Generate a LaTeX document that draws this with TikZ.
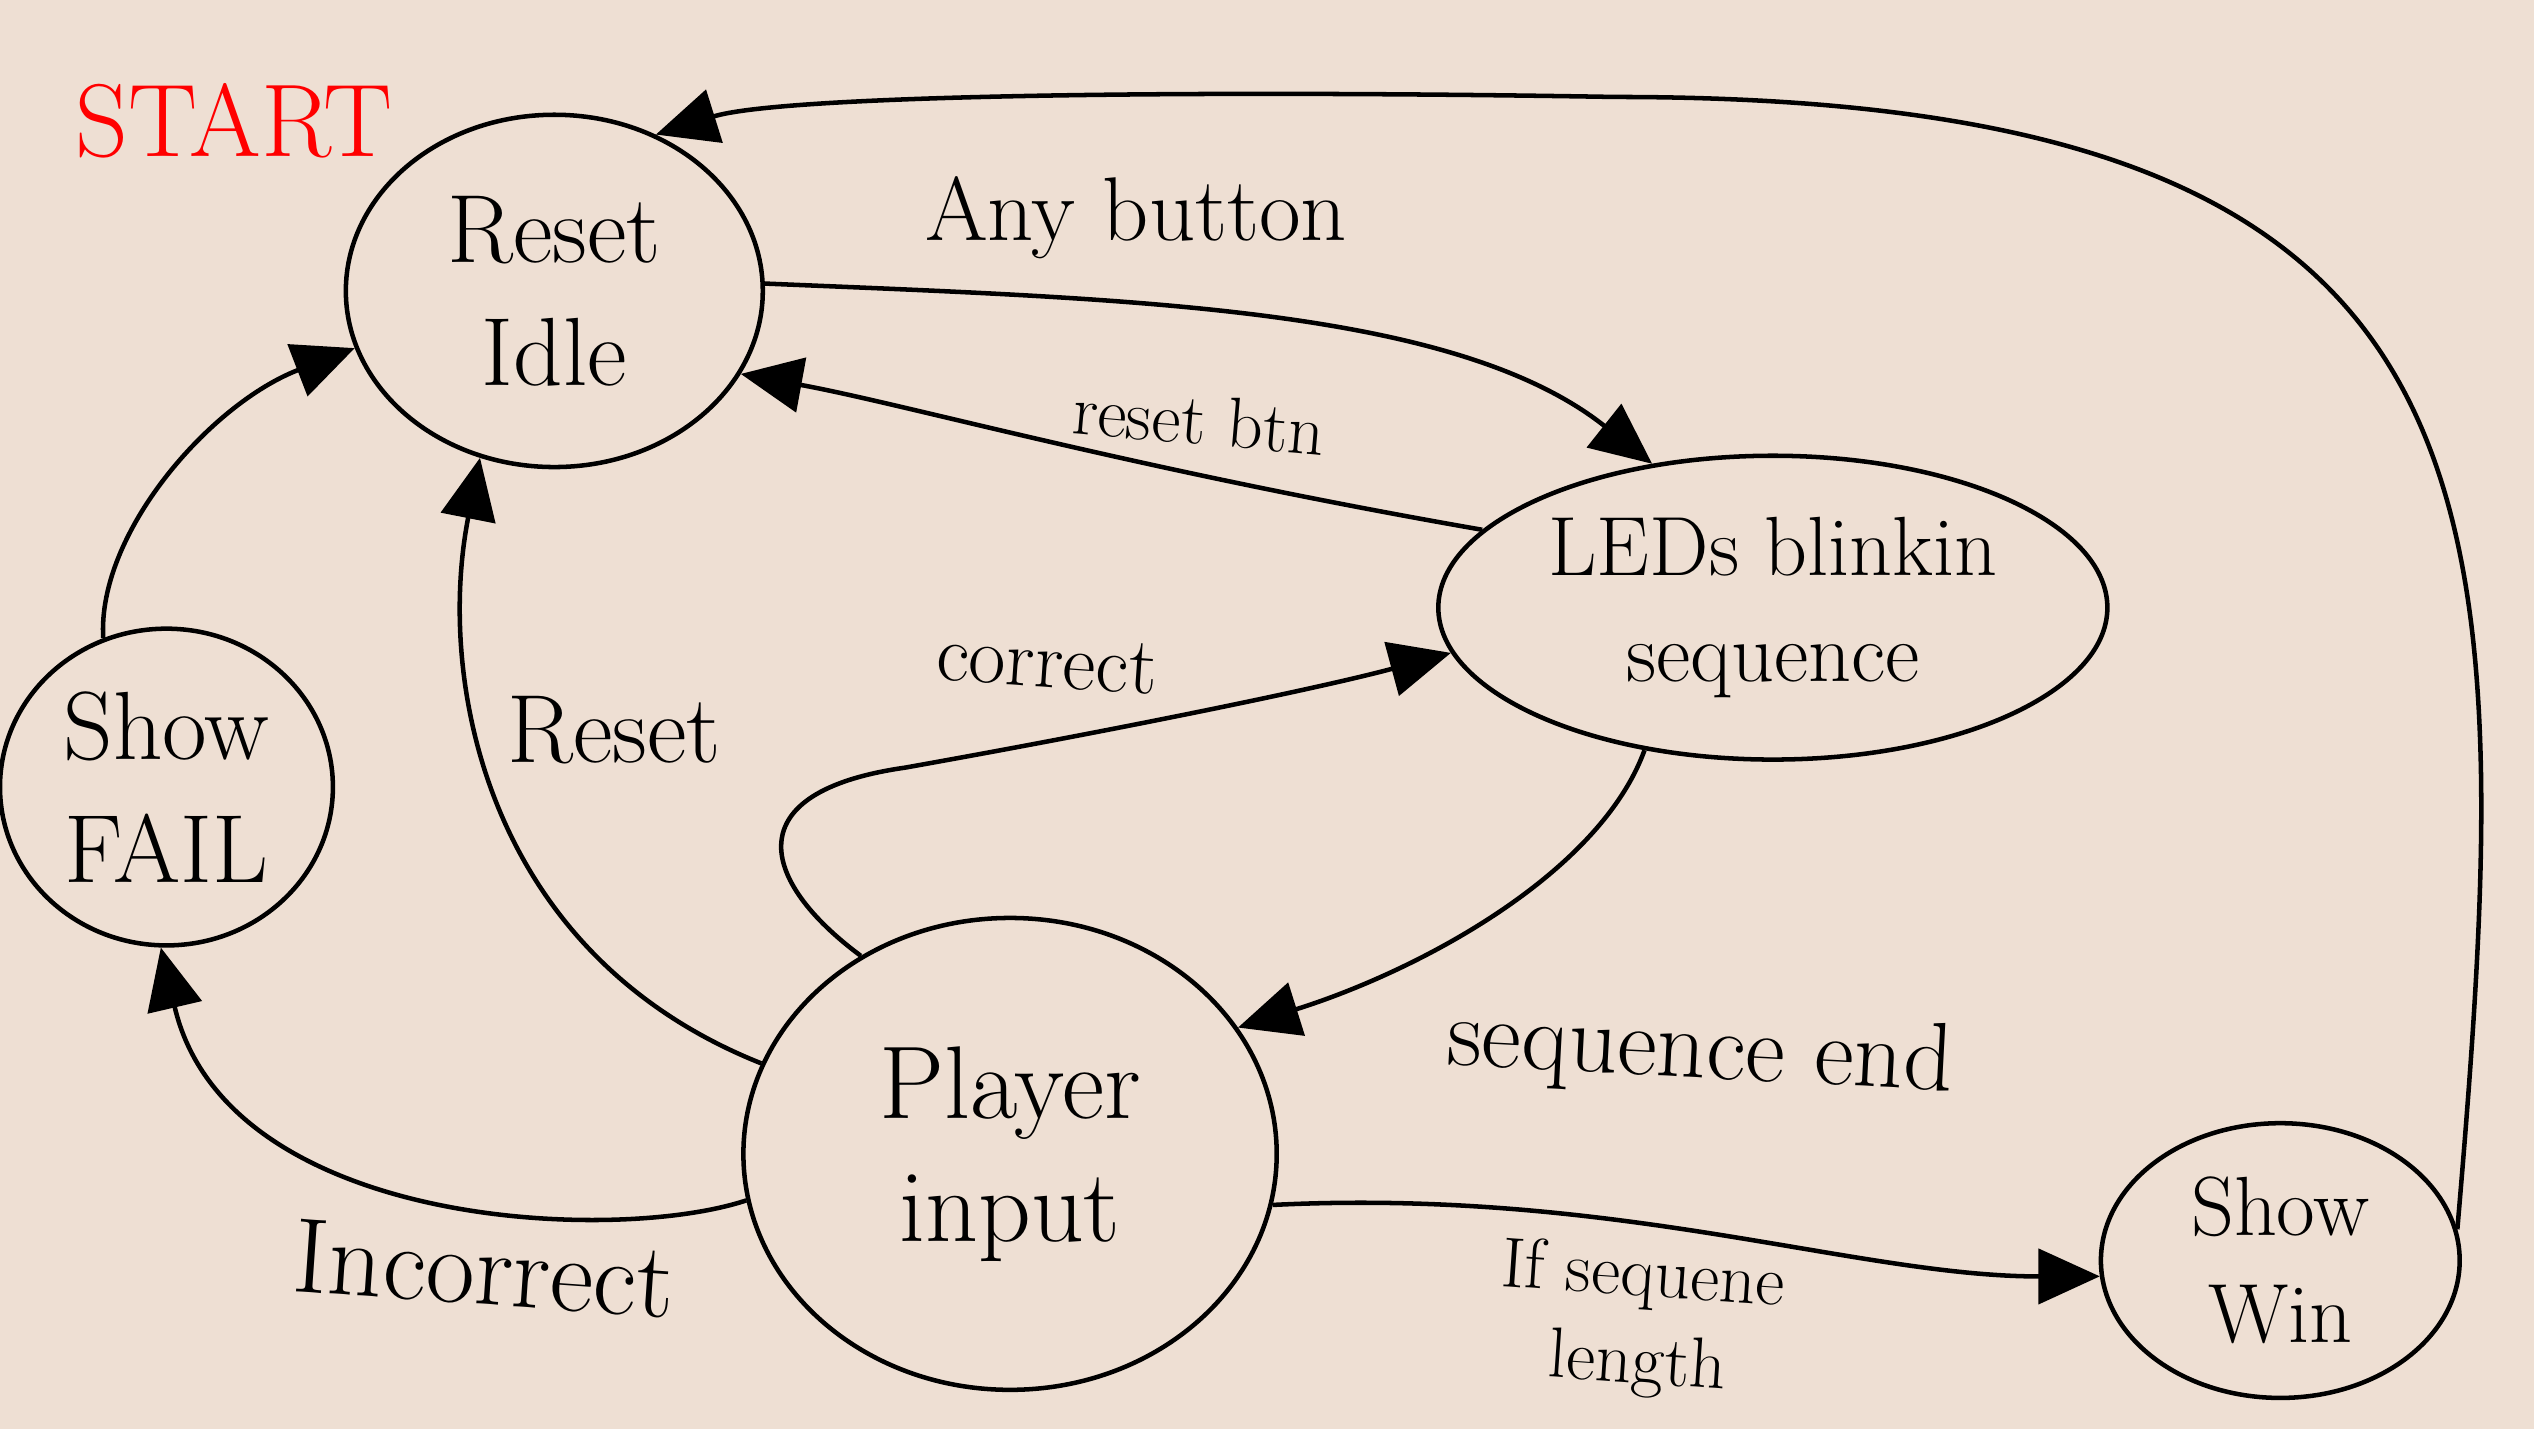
\documentclass[tikz,border=0pt]{standalone}
\usetikzlibrary{arrows.meta,shapes.geometric}
\definecolor{bg}{RGB}{238,223,211}
\definecolor{startred}{RGB}{255,0,0}
\begin{document}
\begin{tikzpicture}[x=1pt,y=-1pt,
  state/.style={draw, ellipse, line width=2.8pt, inner sep=0pt, align=center},
  conn/.style={line width=2.8pt, -{Triangle[length=38pt,width=34pt]}},
  big/.style={font=\fontsize{60}{76}\selectfont},
  mid/.style={font=\fontsize{52}{66}\selectfont},
  sml/.style={font=\fontsize{44}{54}\selectfont}]
\fill[bg] (0,0) rectangle (1568,884);
\useasboundingbox (0,0) rectangle (1568,884);

% states
\node[state, big, minimum width=258pt, minimum height=218pt] (rst) at (343,180) {Reset\\Idle};
\node[state, mid, minimum width=414pt, minimum height=188pt] (led) at (1097,376) {LEDs blinkin\\sequence};
\node[state, big, minimum width=206pt, minimum height=196pt] (fail) at (103,487) {Show\\FAIL};
\node[state, font=\fontsize{64}{76}\selectfont, minimum width=330pt, minimum height=292pt] (pl) at (625,714) {Player\\input};
\node[state, mid, minimum width=222pt, minimum height=170pt] (win) at (1411,780) {Show\\Win};

% start
\node[font=\fontsize{64}{70}\selectfont, text=startred] (start) at (145,75) {START};

% connectors
\draw[conn] (rst.2) .. controls (700,185) and (900,190) .. (led.130);
\draw[conn] (led.165) .. controls (700,290) and (560,250) .. (rst.-24);
\draw[conn] (pl.127) .. controls (470,545) and (455,490) .. (560,475)
            .. controls (700,450) and (820,425) .. (led.188);
\draw[conn] (led.228) .. controls (990,540) and (880,600) .. (pl.29);
\draw[conn] (pl.160) .. controls (300,590) and (270,420) .. (rst.246);
\draw[conn] (pl.190) .. controls (380,770) and (140,760) .. (fail.268);
\draw[conn] (fail.113) .. controls (60,330) and (130,250) .. (rst.196);
\draw[conn] (pl.349) .. controls (1000,735) and (1150,790) .. (win.185);
\draw[conn] (win.10) .. controls (1560,300) and (1560,60) .. (1000,60)
            .. controls (700,55) and (480,60) .. (rst.57);

% labels
\node[font=\fontsize{56}{66}\selectfont] (lany) at (703,135) {Any button};
\node[sml, rotate=-5] (lreset) at (742,260) {reset btn};
\node[font=\fontsize{50}{60}\selectfont, rotate=-4] (lcorr) at (648,410) {correct};
\node[big] (lrst) at (380,452) {Reset};
\node[font=\fontsize{60}{70}\selectfont, rotate=-3] (lseq) at (1052,652) {sequence end};
\node[font=\fontsize{66}{76}\selectfont, rotate=-4] (linc) at (300,785) {Incorrect};
\node[sml, rotate=-4, align=center] (llen) at (1015,818) {If sequene\\length};
\end{tikzpicture}
\end{document}
